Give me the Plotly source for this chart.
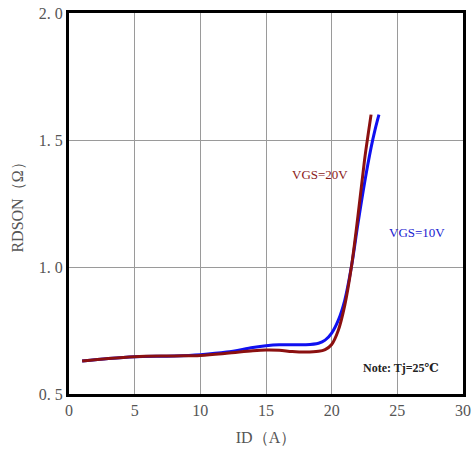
import plotly.graph_objects as go

# data
id_10v = [1, 3, 5, 8, 10, 12, 14, 15, 16, 17, 18, 19, 19.5, 20, 20.5, 21, 21.5, 22, 22.5, 23, 23.3, 23.6]
r_10v = [0.63, 0.64, 0.647, 0.65, 0.655, 0.665, 0.683, 0.69, 0.694, 0.694, 0.694, 0.70, 0.712, 0.74, 0.79, 0.87, 1.0, 1.17, 1.33, 1.47, 1.54, 1.60]
id_20v = [1, 3, 5, 8, 10, 12, 14, 15, 16, 17, 18, 19, 19.5, 20, 20.5, 21, 21.5, 22, 22.5, 22.8, 23.0]
r_20v = [0.63, 0.64, 0.647, 0.65, 0.652, 0.66, 0.670, 0.673, 0.672, 0.667, 0.665, 0.668, 0.675, 0.695, 0.75, 0.85, 1.0, 1.2, 1.42, 1.53, 1.60]

x_ticks = [0, 5, 10, 15, 20, 25, 30]
y_ticks = [0.5, 1.0, 1.5, 2.0]
y_ticktext = ["0. 5", "1. 0", "1. 5", "2. 0"]

font_family = "Liberation Serif, DejaVu Serif, serif"

fig = go.Figure()
fig.add_trace(go.Scatter(x=id_10v, y=r_10v, mode="lines", line=dict(color="#1010f0", width=3, shape="spline"), name="VGS=10V"))
fig.add_trace(go.Scatter(x=id_20v, y=r_20v, mode="lines", line=dict(color="#8b1010", width=3, shape="spline"), name="VGS=20V"))

fig.add_annotation(x=19.1, y=1.366, text="VGS=20V", showarrow=False, font=dict(color="#8b1a1a", size=13, family=font_family))
fig.add_annotation(x=26.5, y=1.136, text="VGS=10V", showarrow=False, font=dict(color="#2020d0", size=13, family=font_family))
fig.add_annotation(x=25.3, y=0.603, text="<b>Note: Tj=25℃</b>", showarrow=False, font=dict(color="#222222", size=12, family=font_family))

fig.update_layout(
    width=475, height=461,
    margin=dict(l=69, r=12, t=13, b=67),
    paper_bgcolor="white", plot_bgcolor="white",
    showlegend=False,
    font=dict(family=font_family, color="#555555"),
)
fig.update_xaxes(
    range=[0, 30], tickvals=x_ticks, showgrid=True, gridcolor="#9a9a9a", gridwidth=1,
    showline=True, linecolor="black", linewidth=3, mirror=True, zeroline=False,
    tickfont=dict(size=16, color="#555555"), ticks="", automargin=False, ticklabeloverflow="allow",
    title=dict(text="ID（A）", font=dict(size=16, color="#555555"), standoff=14),
)
fig.update_yaxes(
    range=[0.5, 2.0], tickvals=y_ticks, ticktext=y_ticktext, showgrid=True, gridcolor="#9a9a9a", gridwidth=1,
    showline=True, linecolor="black", linewidth=3, mirror=True, zeroline=False,
    tickfont=dict(size=16, color="#555555"), ticks="", automargin=False, ticklabeloverflow="allow",
    title=dict(text="RDSON（Ω）", font=dict(size=16, color="#555555"), standoff=12),
)

fig.write_html("out.html", config={"displayModeBar": False}, post_script="document.body.style.margin='0';")
